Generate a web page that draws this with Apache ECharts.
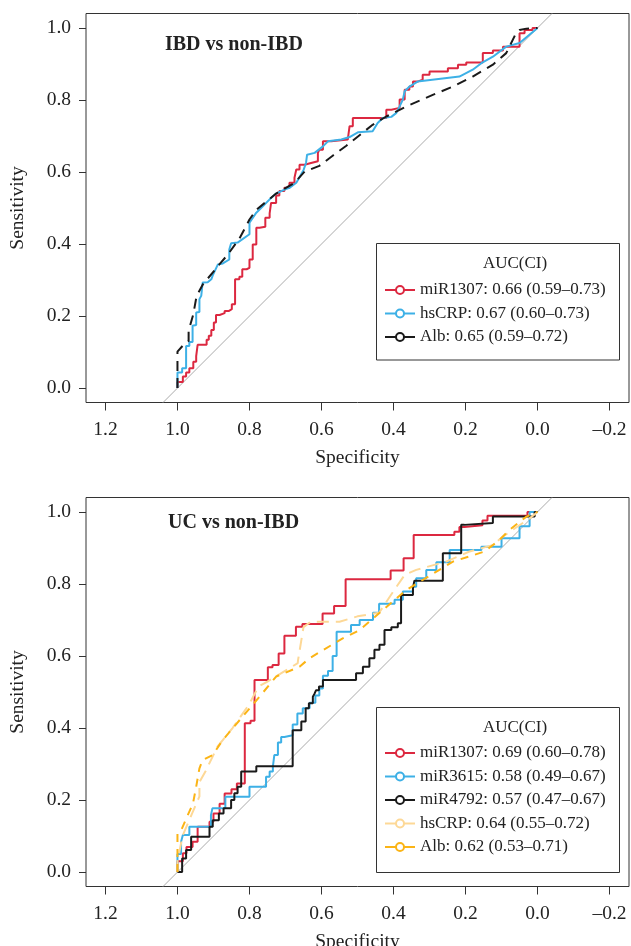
<!DOCTYPE html>
<html>
<head>
<meta charset="utf-8">
<script src="https://cdn.jsdelivr.net/npm/echarts@6/dist/echarts.min.js"></script>
<style>
  html, body { margin: 0; padding: 0; background: #fff; }
  #chart { width: 631px; height: 946px; }
</style>
</head>
<body>
<div id="chart"></div>
<script>
// 刻度
const yTicks = [0, 0.2, 0.4, 0.6, 0.8, 1.0];
const xTicks = [1.2, 1.0, 0.8, 0.6, 0.4, 0.2, 0.0, -0.2];

// 图例文字
const ibdLabels = ['miR1307: 0.66 (0.59–0.73)', 'hsCRP: 0.67 (0.60–0.73)', 'Alb: 0.65 (0.59–0.72)'];
const ucLabels = ['miR1307: 0.69 (0.60–0.78)', 'miR3615: 0.58 (0.49–0.67)', 'miR4792: 0.57 (0.47–0.67)',
                  'hsCRP: 0.64 (0.55–0.72)', 'Alb: 0.62 (0.53–0.71)'];

// IBD vs non-IBD  [specificity, sensitivity]
// 阶梯曲线只存拐点
const ibdMir1307 = [[1.0,0.0],[0.985,0.017],[0.976,0.032],[0.967,0.043],[0.956,0.055],[0.948,0.073],[0.944,0.089],
  [0.919,0.120],[0.913,0.134],[0.906,0.145],[0.899,0.161],[0.893,0.182],[0.883,0.203],[0.869,0.208],[0.858,0.214],
  [0.849,0.219],[0.840,0.233],[0.828,0.302],[0.820,0.309],[0.808,0.330],[0.800,0.334],[0.791,0.357],[0.781,0.399],
  [0.772,0.445],[0.756,0.448],[0.744,0.473],[0.740,0.485],[0.726,0.514],[0.717,0.535],[0.703,0.547],[0.689,0.556],
  [0.675,0.570],[0.670,0.584],[0.661,0.607],[0.647,0.620],[0.629,0.625],[0.610,0.630],[0.606,0.653],[0.596,0.662],
  [0.573,0.685],[0.527,0.690],[0.522,0.694],[0.513,0.727],[0.420,0.750],[0.406,0.773],[0.383,0.778],[0.369,0.801],
  [0.356,0.828],[0.346,0.837],[0.333,0.851],[0.319,0.856],[0.300,0.870],[0.249,0.879],[0.221,0.888],[0.198,0.898],
  [0.152,0.904],[0.124,0.930],[0.096,0.937],[0.050,0.948],[0.036,0.985],[0.014,0.994],[0.0,1.0]];
const ibdHsCRP = [[1.0,0.0],[1.0,0.043],[0.987,0.043],[0.987,0.055],[0.976,0.055],[0.976,0.117],[0.967,0.117],
  [0.967,0.128],[0.958,0.128],[0.958,0.173],[0.948,0.175],[0.948,0.210],[0.939,0.211],[0.939,0.247],[0.934,0.256],
  [0.930,0.293],[0.916,0.294],[0.906,0.302],[0.902,0.313],[0.888,0.343],[0.874,0.346],[0.856,0.357],[0.856,0.385],
  [0.851,0.402],[0.833,0.404],[0.800,0.427],[0.800,0.459],[0.781,0.487],[0.763,0.505],[0.744,0.524],[0.726,0.540],
  [0.703,0.551],[0.689,0.556],[0.670,0.570],[0.650,0.605],[0.643,0.625],[0.640,0.648],[0.619,0.653],[0.596,0.671],
  [0.582,0.685],[0.545,0.690],[0.522,0.697],[0.499,0.710],[0.458,0.713],[0.444,0.736],[0.430,0.750],[0.406,0.753],
  [0.392,0.764],[0.383,0.782],[0.374,0.801],[0.369,0.824],[0.356,0.837],[0.333,0.851],[0.217,0.865],[0.180,0.884],
  [0.156,0.902],[0.124,0.920],[0.087,0.948],[0.050,0.958],[0.0,1.0]];
const ibdAlb = [[1.0,0.0],[1.0,0.101],[0.986,0.117],[0.969,0.131],[0.969,0.159],[0.956,0.205],[0.947,0.255],
  [0.930,0.287],[0.883,0.344],[0.860,0.371],[0.828,0.415],[0.800,0.468],[0.781,0.495],[0.726,0.540],[0.675,0.570],
  [0.647,0.601],[0.606,0.617],[0.569,0.645],[0.531,0.673],[0.458,0.731],[0.420,0.754],[0.364,0.782],[0.291,0.814],
  [0.235,0.837],[0.180,0.865],[0.124,0.898],[0.087,0.930],[0.078,0.948],[0.060,0.985],[0.050,0.994],[0.031,0.998],
  [0.0,1.0]];

// UC vs non-IBD
const ucMir1307 = [[1.0,0.0],[0.985,0.03],[0.975,0.052],[0.958,0.07],[0.944,0.084],[0.911,0.126],[0.900,0.14],
  [0.883,0.163],[0.869,0.19],[0.850,0.218],[0.835,0.23],[0.813,0.246],[0.797,0.413],[0.786,0.42],[0.749,0.533],
  [0.736,0.569],[0.719,0.575],[0.703,0.607],[0.671,0.656],[0.653,0.681],[0.597,0.689],[0.565,0.718],[0.533,0.739],
  [0.408,0.813],[0.372,0.837],[0.344,0.871],[0.231,0.936],[0.217,0.945],[0.203,0.958],[0.153,0.963],[0.139,0.976],
  [0.028,0.989],[0.0,1.0]];
const ucMir3615 = [[1.0,0.0],[0.99,0.05],[0.985,0.084],[0.967,0.103],[0.907,0.126],[0.903,0.158],[0.867,0.177],
  [0.800,0.209],[0.754,0.237],[0.744,0.265],[0.735,0.279],[0.731,0.293],[0.721,0.325],[0.712,0.36],[0.703,0.375],
  [0.680,0.38],[0.667,0.41],[0.652,0.44],[0.633,0.455],[0.617,0.47],[0.606,0.49],[0.596,0.51],[0.582,0.545],
  [0.569,0.558],[0.558,0.60],[0.518,0.667],[0.494,0.686],[0.457,0.70],[0.44,0.72],[0.397,0.745],[0.374,0.756],
  [0.346,0.779],[0.337,0.792],[0.309,0.816],[0.281,0.839],[0.244,0.86],[0.156,0.894],[0.10,0.903],[0.05,0.927],
  [0.022,0.96],[0.0,1.0]];
const ucMir4792 = [[1.0,0.0],[0.987,0.0],[0.976,0.038],[0.962,0.061],[0.911,0.098],[0.902,0.126],[0.885,0.144],
  [0.872,0.163],[0.851,0.177],[0.842,0.20],[0.833,0.219],[0.823,0.237],[0.781,0.279],[0.680,0.294],[0.656,0.394],
  [0.644,0.418],[0.635,0.455],[0.624,0.469],[0.619,0.487],[0.615,0.496],[0.607,0.505],[0.596,0.515],[0.504,0.533],
  [0.485,0.552],[0.467,0.570],[0.453,0.594],[0.439,0.617],[0.425,0.631],[0.406,0.672],[0.388,0.68],[0.379,0.691],
  [0.346,0.769],[0.342,0.788],[0.263,0.809],[0.212,0.885],[0.203,0.964],[0.124,0.969],[0.008,0.987],[0.0,1.0]];
const ucHsCRP = [[1.0,0.0],[1.0,0.03],[0.986,0.10],[0.972,0.133],[0.939,0.21],[0.939,0.25],[0.922,0.28],
  [0.889,0.348],[0.847,0.40],[0.802,0.464],[0.775,0.515],[0.75,0.529],[0.666,0.58],[0.665,0.589],[0.65,0.68],
  [0.63,0.695],[0.55,0.695],[0.5,0.71],[0.44,0.72],[0.392,0.792],[0.369,0.825],[0.337,0.839],[0.254,0.862],
  [0.189,0.89],[0.124,0.908],[0.097,0.931],[0.022,0.982],[0.0,1.0]];
const ucAlb = [[1.0,0.0],[1.0,0.107],[0.99,0.115],[0.975,0.15],[0.957,0.19],[0.948,0.237],[0.939,0.288],
  [0.930,0.311],[0.902,0.325],[0.874,0.367],[0.823,0.427],[0.772,0.487],[0.726,0.543],[0.661,0.57],[0.633,0.594],
  [0.541,0.649],[0.494,0.672],[0.392,0.76],[0.365,0.783],[0.235,0.862],[0.147,0.89],[0.106,0.922],[0.078,0.95],
  [0.031,0.987],[0.0,1.0]];

// 坐标范围 (asp = 1)
const X_MIN = -0.254, X_MAX = 1.254;
const Y_MIN = -0.04, Y_MAX = 1.04;

const SERIF = "'Liberation Serif', 'DejaVu Serif', serif";
const INK = '#222';
const RED = '#dc2840', BLUE = '#3db0e6', BLACK = '#1a1a1a', PEACH = '#fdd896', ORANGE = '#fbb416';

const PANEL_TOP = [13.5, 497.5];
const PANEL_H = 389;

function fmtTick(v) {
    return v < 0 ? '–' + Math.abs(v).toFixed(1) : v.toFixed(1);
}

function makeX(idx) {
    return {
        gridIndex: idx, type: 'value', min: X_MIN, max: X_MAX, inverse: true,
        axisLine: { show: false, onZero: false },
        axisTick: { show: true, length: 8, customValues: xTicks, lineStyle: { color: '#333' } },
        axisLabel: { customValues: xTicks, formatter: fmtTick, margin: 17, fontSize: 19.5, fontFamily: SERIF, color: INK },
        splitLine: { show: false },
        name: 'Specificity', nameLocation: 'middle', nameGap: 45,
        nameTextStyle: { fontSize: 19.5, fontFamily: SERIF, color: INK }
    };
}

function makeY(idx) {
    return {
        gridIndex: idx, type: 'value', min: Y_MIN, max: Y_MAX,
        axisLine: { show: false, onZero: false },
        axisTick: { show: true, length: 7, customValues: yTicks, lineStyle: { color: '#333' } },
        axisLabel: { customValues: yTicks, formatter: fmtTick, margin: 15, fontSize: 19.5, fontFamily: SERIF, color: INK },
        splitLine: { show: false },
        name: 'Sensitivity', nameLocation: 'middle', nameGap: 58,
        nameTextStyle: { fontSize: 19.5, fontFamily: SERIF, color: INK }
    };
}

function curve(name, data, color, idx, dash, step) {
    return {
        type: 'line', name: name, data: data, xAxisIndex: idx, yAxisIndex: idx,
        step: step ? 'start' : false,
        symbol: 'emptyCircle', symbolSize: 7, showSymbol: false,
        lineStyle: { color: color, width: 2, type: dash || 'solid' },
        itemStyle: { color: color },
        silent: true, animation: false
    };
}

function chanceLine(idx) {
    // 对角参考线，延伸到坐标框边缘
    return {
        type: 'line', data: [[1 - Y_MIN, Y_MIN], [1 - Y_MAX, Y_MAX]], xAxisIndex: idx, yAxisIndex: idx,
        symbol: 'none', lineStyle: { color: '#aaa', width: 1 }, silent: true, animation: false, z: 1
    };
}

function makeLegend(labels, top) {
    return {
        orient: 'vertical', left: 384, top: top, padding: 0,
        itemWidth: 30, itemHeight: 10, itemGap: 6.5,
        data: labels, selectedMode: false,
        lineStyle: { type: 'solid', width: 2 },
        textStyle: { fontSize: 17, fontFamily: SERIF, color: INK }
    };
}

function textItem(str, x, y, size, bold, align) {
    return {
        type: 'text', x: x, y: y, z: 10,
        style: {
            text: str, fill: INK, align: align || 'left', verticalAlign: 'middle',
            font: (bold ? 'bold ' : '') + size + 'px ' + SERIF
        }
    };
}

function init() {
    const chart = echarts.init(document.getElementById('chart'), null, { renderer: 'canvas' });

    const option = {
        backgroundColor: '#fff',
        animation: false,
        grid: PANEL_TOP.map(function (t) {
            return { left: 86, top: t, width: 543, height: PANEL_H, show: true,
                     borderColor: '#333', borderWidth: 1, backgroundColor: 'transparent', outerBoundsMode: 'none' };
        }),
        xAxis: [makeX(0), makeX(1)],
        yAxis: [makeY(0), makeY(1)],
        legend: [makeLegend(ibdLabels, 281.5), makeLegend(ucLabels, 744.5)],
        series: [
            chanceLine(0),
            curve(ibdLabels[0], ibdMir1307, RED, 0, null, true),
            curve(ibdLabels[1], ibdHsCRP, BLUE, 0),
            curve(ibdLabels[2], ibdAlb, BLACK, 0, [10, 7]),
            chanceLine(1),
            curve(ucLabels[0], ucMir1307, RED, 1, null, true),
            curve(ucLabels[1], ucMir3615, BLUE, 1, null, true),
            curve(ucLabels[2], ucMir4792, BLACK, 1, null, true),
            curve(ucLabels[3], ucHsCRP, PEACH, 1, [12, 7]),
            curve(ucLabels[4], ucAlb, ORANGE, 1, [8, 7])
        ],
        graphic: [
            { type: 'rect', shape: { x: 376.5, y: 243.5, width: 243, height: 116.5 },
              style: { fill: 'transparent', stroke: '#333', lineWidth: 1 }, z: 5 },
            { type: 'rect', shape: { x: 376.5, y: 707.5, width: 243, height: 165 },
              style: { fill: 'transparent', stroke: '#333', lineWidth: 1 }, z: 5 },
            textItem('IBD vs non-IBD', 165, 45, 20, true),
            textItem('UC vs non-IBD', 168, 523, 20, true),
            textItem('AUC(CI)', 515, 264, 17, false, 'center'),
            textItem('AUC(CI)', 515, 728, 17, false, 'center')
        ]
    };

    chart.setOption(option);
}

window.addEventListener('DOMContentLoaded', init);
</script>
</body>
</html>
